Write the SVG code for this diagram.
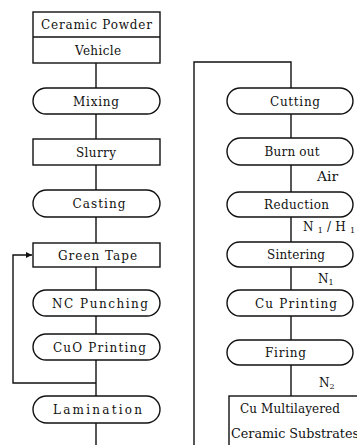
<svg xmlns="http://www.w3.org/2000/svg" width="357" height="445" viewBox="0 0 357 445">
<style>
.b{fill:#fff;stroke:#111;stroke-width:1.4}
.c{fill:none;stroke:#111;stroke-width:1.4}
text{font-family:"DejaVu Serif","Liberation Serif",serif;font-size:12px;fill:#111;text-anchor:middle}
.s{font-size:8px}
</style>
<defs>
<marker id="ah" viewBox="0 0 8 8" refX="8" refY="4" markerWidth="6" markerHeight="6" orient="auto" markerUnits="userSpaceOnUse"><path d="M0,0 L8,4 L0,8 z" fill="#111"/></marker>
</defs>
<rect width="357" height="445" fill="#fff"/>
<g id="connectors">
<path class="c" d="M96,63 V88 M96,114 V139 M96,165 V190 M96,217 V243 M96,267 V290 M96,316 V334 M96,360 V396 M96,423 V445"/>
<path class="c" d="M96,383 H13 V255 H32" marker-end="url(#ah)"/>
<path class="c" d="M194,445 V62 H291 V88"/>
<path class="c" d="M291,114 V138 M291,165 V192 M291,217 V242 M291,267 V290 M291,316 V340 M291,365 V396"/>
</g>
<g id="n-ceramic-powder-vehicle">
<rect class="b" x="33" y="12" width="127" height="51"/>
<line class="c" x1="33" y1="37" x2="160" y2="37"/>
<text x="96.5" y="29" textLength="111" lengthAdjust="spacing">Ceramic Powder</text>
<text x="98" y="55" textLength="46" lengthAdjust="spacing">Vehicle</text>
</g>
<g id="n-mixing"><rect class="b" x="33" y="88" width="127" height="26" rx="13"/><text x="96" y="106" textLength="46" lengthAdjust="spacing">Mixing</text></g>
<g id="n-slurry"><rect class="b" x="33" y="139" width="127" height="26"/><text x="96" y="157" textLength="40" lengthAdjust="spacing">Slurry</text></g>
<g id="n-casting"><rect class="b" x="33" y="190" width="127" height="27" rx="13.5"/><text x="99" y="208" textLength="53" lengthAdjust="spacing">Casting</text></g>
<g id="n-green-tape"><rect class="b" x="33" y="243" width="127" height="24"/><text x="97.5" y="260" textLength="79" lengthAdjust="spacing">Green Tape</text></g>
<g id="n-nc-punching"><rect class="b" x="33" y="290" width="127" height="26" rx="13"/><text x="100" y="308" textLength="96" lengthAdjust="spacing">NC Punching</text></g>
<g id="n-cuo-printing"><rect class="b" x="33" y="334" width="127" height="26" rx="13"/><text x="99.5" y="352" textLength="93" lengthAdjust="spacing">CuO Printing</text></g>
<g id="n-lamination"><rect class="b" x="33" y="396" width="127" height="27" rx="13.5"/><text x="97.5" y="414" textLength="89" lengthAdjust="spacing">Lamination</text></g>
<g id="n-cutting"><rect class="b" x="227" y="88" width="126" height="26" rx="13"/><text x="295" y="106" textLength="50" lengthAdjust="spacing">Cutting</text></g>
<g id="n-burn-out"><rect class="b" x="227" y="138" width="126" height="27" rx="13.5"/><text x="292" y="156" textLength="55" lengthAdjust="spacing">Burn out</text></g>
<g id="n-reduction"><rect class="b" x="227" y="192" width="126" height="25" rx="12.5"/><text x="296.5" y="209" textLength="65" lengthAdjust="spacing">Reduction</text></g>
<g id="n-sintering"><rect class="b" x="227" y="242" width="126" height="25" rx="12.5"/><text x="296" y="259" textLength="58" lengthAdjust="spacing">Sintering</text></g>
<g id="n-cu-printing"><rect class="b" x="227" y="290" width="126" height="26" rx="13"/><text x="296" y="308" textLength="82" lengthAdjust="spacing">Cu Printing</text></g>
<g id="n-firing"><rect class="b" x="227" y="340" width="126" height="25" rx="12.5"/><text x="285.5" y="357" textLength="41" lengthAdjust="spacing">Firing</text></g>
<g id="n-substrates">
<rect class="b" x="229" y="396" width="140" height="60"/>
<text x="290" y="413" textLength="100" lengthAdjust="spacing">Cu Multilayered</text>
<text x="231" y="438" style="text-anchor:start" textLength="128" lengthAdjust="spacingAndGlyphs">Ceramic Substrates</text>
</g>
<g id="labels">
<text x="327.5" y="181" textLength="21" lengthAdjust="spacingAndGlyphs">Air</text>
<text x="303" y="231" style="text-anchor:start" textLength="52" lengthAdjust="spacing">N<tspan class="s" dy="2">1</tspan><tspan dy="-2">/H</tspan><tspan class="s" dy="2">1</tspan></text>
<text x="318" y="283" style="text-anchor:start">N<tspan class="s" dy="2">1</tspan></text>
<text x="319" y="387" style="text-anchor:start">N<tspan class="s" dy="2">2</tspan></text>
</g>
</svg>
